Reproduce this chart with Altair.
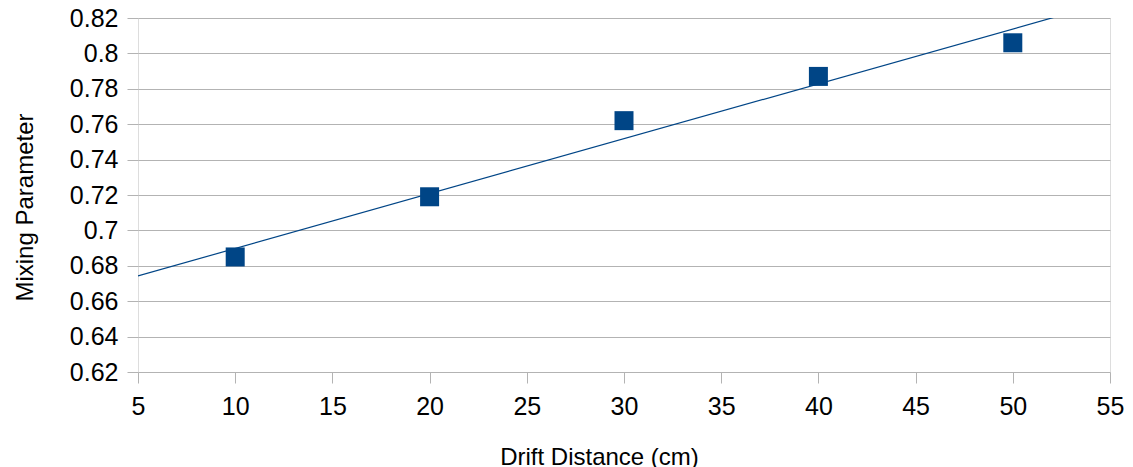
import altair as alt
import pandas as pd

drift_cm = [10, 20, 30, 40, 50]
mixing = [0.685, 0.719, 0.762, 0.787, 0.806]

x_ticks = [5, 10, 15, 20, 25, 30, 35, 40, 45, 50, 55]
y_ticks = [0.62, 0.64, 0.66, 0.68, 0.70, 0.72, 0.74, 0.76, 0.78, 0.80, 0.82]

df = pd.DataFrame({"x": drift_cm, "y": mixing})

FONT = "Liberation Sans"
BLUE = "#004586"
GRID = "#b3b3b3"

xscale = alt.Scale(domain=[5, 55], nice=False, zero=False)
yscale = alt.Scale(domain=[0.62, 0.82], nice=False, zero=False)

xaxis = alt.Axis(
    title="Drift Distance (cm)", values=x_ticks, grid=False,
    tickSize=11, tickColor=GRID, domain=False, labelOverlap=False, labelFlush=False,
    labelFontSize=25, labelFont=FONT, labelColor="black", labelPadding=11,
    titleFont=FONT, titleFontSize=24, titleFontWeight="normal", titleColor="black",
    titleX=461, titleY=92, titleBaseline="alphabetic", titleAlign="center",
)
yaxis = alt.Axis(
    title="Mixing Parameter", values=y_ticks, format=".2~f",
    grid=True, gridColor=GRID, gridWidth=1, gridOpacity=1,
    tickSize=11, tickColor=GRID, domain=False, labelOverlap=False, labelFlush=False,
    labelFontSize=25, labelFont=FONT, labelColor="black", labelPadding=9,
    titleFont=FONT, titleFontSize=24, titleFontWeight="normal", titleColor="black",
    titleX=-106, titleY=189, titleBaseline="alphabetic", titleAlign="center", titleAngle=270,
)

base = alt.Chart(df)

points = base.mark_point(shape="square", filled=True, size=361, color=BLUE, opacity=1).encode(
    x=alt.X("x:Q", scale=xscale, axis=xaxis),
    y=alt.Y("y:Q", scale=yscale, axis=yaxis),
)

trend = base.transform_regression("x", "y", extent=[5, 55]).mark_line(
    color=BLUE, strokeWidth=1.2, clip=True
).encode(
    x=alt.X("x:Q", scale=xscale, axis=xaxis),
    y=alt.Y("y:Q", scale=yscale, axis=yaxis),
)

chart = alt.layer(trend, points).properties(
    width=972, height=354,
    autosize=alt.AutoSizeParams(type="none"),
    padding={"left": 130, "top": 10, "right": 15, "bottom": 100},
).configure_view(stroke=GRID, strokeWidth=1).configure(background="white")

chart.save("out.html", embed_options={"renderer": "svg", "actions": False})
